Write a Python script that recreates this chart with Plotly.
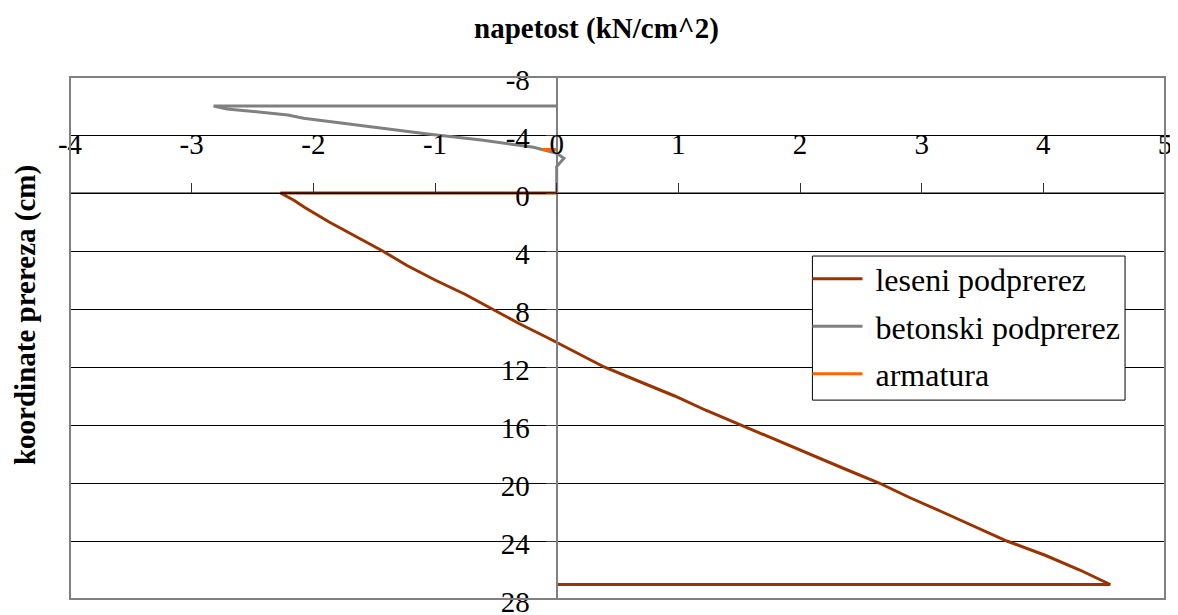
import plotly.graph_objects as go

# leseni podprerez (timber sub-section)
les_x = [0, -2.27, -2.16, -2.07, -1.87, -1.65, -1.43, -1.23, -1.00, -0.75, -0.53, -0.31, -0.07,
         0.16, 0.39, 0.68, 0.97, 1.23, 1.51, 1.80, 2.07, 2.36, 2.65, 2.90, 3.17, 3.44, 3.70,
         4.02, 4.30, 4.55, 0]
les_y = [0, 0, 0.5, 1, 2, 3, 4, 5, 6, 7, 8, 9, 10, 11, 12, 13, 14, 15, 16, 17, 18, 19, 20,
         21, 22, 23, 24, 25, 26, 27, 27]

# betonski podprerez (concrete sub-section)
bet_x = [0, -2.82, -2.71, -2.21, -2.08, -1.80, -1.45, -1.06, -0.62, -0.19, 0.0, 0.06, 0.0, 0.0]
bet_y = [-6, -6.0, -5.8, -5.38, -5.15, -4.85, -4.46, -4.07, -3.66, -3.15, -2.74, -2.39, -1.82, 0]

# armatura (reinforcement)
arm_x = [-0.12, 0]
arm_y = [-3, -3]

x_ticks = [-4, -3, -2, -1, 0, 1, 2, 3, 4, 5]
y_ticks = [-8, -4, 0, 4, 8, 12, 16, 20, 24, 28]

FONT = "Liberation Serif, Times New Roman, serif"
NB = "\u00a0"

fig = go.Figure()
fig.add_trace(go.Scatter(x=les_x, y=les_y, mode="lines", name=NB + "leseni podprerez",
                         line=dict(color="#993300", width=3), legendgroup="a"))
fig.add_trace(go.Scatter(x=bet_x, y=bet_y, mode="lines", name=NB + "betonski podprerez",
                         line=dict(color="#808080", width=3), legendgroup="b"))
fig.add_trace(go.Scatter(x=arm_x, y=arm_y, mode="lines", name=NB + "armatura",
                         line=dict(color="#FF6600", width=3), legendgroup="c"))
# helper trace for the second x axis (tick marks on the y=0 line)
fig.add_trace(go.Scatter(x=[x_ticks[0], x_ticks[-1]], y=[0, 0], mode="lines", xaxis="x2",
                         line=dict(color="black", width=1), showlegend=False, hoverinfo="skip"))

rng_y = [y_ticks[-1], y_ticks[0]]
span_y = y_ticks[-1] - y_ticks[0]
pos_y_m4 = (y_ticks[-1] - (-4)) / span_y + 11 / 522
pos_y_0 = (y_ticks[-1] - 0) / span_y
pos_x_0 = (0 - x_ticks[0]) / (x_ticks[-1] - x_ticks[0])

fig.update_layout(
    width=1170, height=607,
    margin=dict(l=62, r=13, t=69, b=16, autoexpand=False),
    paper_bgcolor="white", plot_bgcolor="white",
    font=dict(family=FONT, color="black", size=28),
    showlegend=True,
    legend=dict(x=0.6735, y=0.666, xanchor="left", yanchor="top",
                bgcolor="rgba(0,0,0,0)", borderwidth=0, itemwidth=50,
                font=dict(family=FONT, size=32, color="black"),
                tracegroupgap=3, traceorder="grouped"),
    xaxis=dict(range=[x_ticks[0], x_ticks[-1]], tickvals=x_ticks, ticktext=[str(v) for v in x_ticks],
               showgrid=False, zeroline=False, showline=False, ticks="", automargin=False,
               anchor="free", position=pos_y_m4, side="bottom", ticklabeloverflow="allow",
               tickfont=dict(family=FONT, size=29, color="black")),
    xaxis2=dict(range=[x_ticks[0], x_ticks[-1]], tickvals=x_ticks, overlaying="x",
                anchor="free", position=pos_y_0, side="top", ticks="outside", ticklen=10,
                tickcolor="#303030", tickwidth=1, showticklabels=False, showgrid=False,
                zeroline=False, automargin=False, showline=True, linecolor="black", linewidth=1),
    yaxis=dict(range=rng_y, tickvals=y_ticks, ticktext=[str(v) for v in y_ticks],
               showgrid=True, gridcolor="black", gridwidth=1, zeroline=False,
               showline=True, linecolor="#808080", linewidth=2, automargin=False,
               ticks="outside", ticklen=10, tickcolor="#404040",
               anchor="free", position=pos_x_0, side="left",
               ticklabelstandoff=10, ticklabelshift=-3, ticklabeloverflow="allow",
               tickfont=dict(family=FONT, size=29, color="black")),
    shapes=[
        dict(type="rect", xref="paper", yref="paper", x0=0, y0=0, x1=1, y1=1,
             line=dict(color="#808080", width=2), layer="above"),
        dict(type="rect", xref="paper", yref="paper", x0=0.678, y0=0.381, x1=0.9635, y1=0.657,
             line=dict(color="black", width=1), fillcolor="white", layer="above"),
    ],
    annotations=[
        dict(text="<b>napetost (kN/cm^2)</b>", xref="paper", yref="paper", x=0.4804, y=1.092,
             xanchor="center", yanchor="middle", showarrow=False,
             font=dict(family=FONT, size=29, color="black")),
        dict(text="<b>koordinate prereza (cm)</b>", xref="paper", yref="paper", x=-0.0411, y=0.544,
             xanchor="center", yanchor="middle", showarrow=False, textangle=-90,
             font=dict(family=FONT, size=29, color="black")),
    ],
)

fig.write_html("out.html")
